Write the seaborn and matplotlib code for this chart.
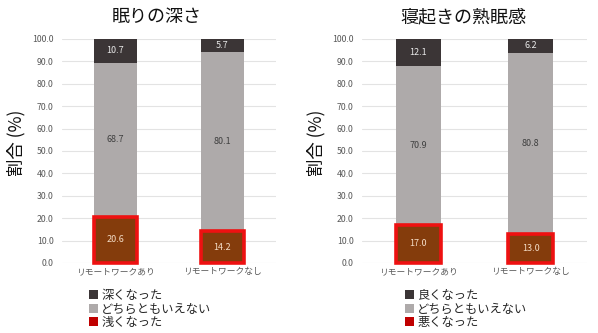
import matplotlib
matplotlib.use("Agg")
import matplotlib.pyplot as plt
import seaborn as sns
import numpy as np
import pandas as pd
from matplotlib.patches import Patch

sns.set_theme(style="white")
plt.rcParams['font.family'] = ['Noto Sans CJK JP', 'DejaVu Sans']

categories = ['リモートワークあり', 'リモートワークなし']

title1 = '眠りの深さ'
top1 = [10.7, 5.7]
mid1 = [68.7, 80.1]
bot1 = [20.6, 14.2]
legend1 = ['深くなった', 'どちらともいえない', '浅くなった']

title2 = '寝起きの熟眠感'
top2 = [12.1, 6.2]
mid2 = [70.9, 80.8]
bot2 = [17.0, 13.0]
legend2 = ['良くなった', 'どちらともいえない', '悪くなった']

yticks = [0, 10, 20, 30, 40, 50, 60, 70, 80, 90, 100]
ylabel = '割合 (%)'

C_TOP = '#3b3536'
C_MID = '#aeaaaa'
C_BOT = '#843c0c'
C_EDGE = '#ee1111'
C_LEG_BOT = '#c00000'

W, H = 598, 333
fig = plt.figure(figsize=(W / 100, H / 100), dpi=100)


def panel(rect, title, title_x, ylab_x, top, mid, bot, legend_labels, leg_x):
    ax = fig.add_axes(rect)
    df = pd.DataFrame({'cat': categories, 'top': top, 'mid': mid, 'bot': bot})
    df['c_bot'] = df['bot']
    df['c_mid'] = df['bot'] + df['mid']
    df['c_top'] = df['c_mid'] + df['top']
    sns.barplot(data=df, x='cat', y='c_top', color=C_TOP, saturation=1, width=0.4, ax=ax,
                linewidth=0, zorder=2)
    sns.barplot(data=df, x='cat', y='c_mid', color=C_MID, saturation=1, width=0.4, ax=ax,
                linewidth=0, zorder=3)
    n_before = len(ax.patches)
    sns.barplot(data=df, x='cat', y='c_bot', color=C_BOT, saturation=1, width=0.4, ax=ax,
                edgecolor=C_EDGE, linewidth=2.6, zorder=4)
    for p in ax.patches[n_before:]:
        p.set_clip_on(False)
    for i in range(len(categories)):
        ax.text(i, df['c_bot'][i] / 2, f"{df['bot'][i]:.1f}", ha='center', va='center',
                fontsize=6.5, color='#f3dcc6', zorder=6)
        ax.text(i, df['c_bot'][i] + df['mid'][i] / 2, f"{df['mid'][i]:.1f}", ha='center', va='center',
                fontsize=6.5, color='#404040', zorder=6)
        ax.text(i, df['c_mid'][i] + df['top'][i] / 2, f"{df['top'][i]:.1f}", ha='center', va='center',
                fontsize=6.5, color='#e8e8e8', zorder=6)
    ax.set_xlim(-0.5, 1.5)
    ax.set_ylim(0, 100)
    ax.set_yticks(yticks)
    ax.set_yticklabels([f"{v:.1f}" for v in yticks])
    ax.yaxis.grid(True, color='#e3e3e3', linewidth=0.8, zorder=0)
    ax.set_axisbelow(True)
    for s in ax.spines.values():
        s.set_visible(False)
    ax.tick_params(axis='y', length=0, pad=6, labelsize=6.3, labelcolor='#595959')
    ax.tick_params(axis='x', length=0, pad=3, labelsize=6.3, labelcolor='#595959')
    ax.set_xlabel('')
    ax.set_ylabel('')
    fig.text(title_x / W, 1 - 17 / H, title, ha='center', va='center', fontsize=13, color='#111111')
    fig.text(ylab_x / W, 1 - 143 / H, ylabel, ha='center', va='center', rotation=90,
             fontsize=12.5, color='#111111')
    handles = [Patch(facecolor=C_TOP, edgecolor='none'),
               Patch(facecolor=C_MID, edgecolor='none'),
               Patch(facecolor=C_LEG_BOT, edgecolor='none')]
    fig.legend(handles, legend_labels, loc='upper left', bbox_to_anchor=(leg_x / W, 1 - 289 / H),
               frameon=False, fontsize=8.8, handlelength=0.75, handleheight=0.75,
               handletextpad=0.25, labelspacing=0.05, borderpad=0, borderaxespad=0)
    return ax


ytop = 1 - 39 / H
ybot = 1 - 263 / H
panel([62 / W, ybot, 214 / W, ytop - ybot], title1, 157, 16, top1, mid1, bot1, legend1, 89)
panel([362 / W, ybot, 225 / W, ytop - ybot], title2, 463, 316, top2, mid2, bot2, legend2, 405)

fig.savefig('out.png', dpi=100)
